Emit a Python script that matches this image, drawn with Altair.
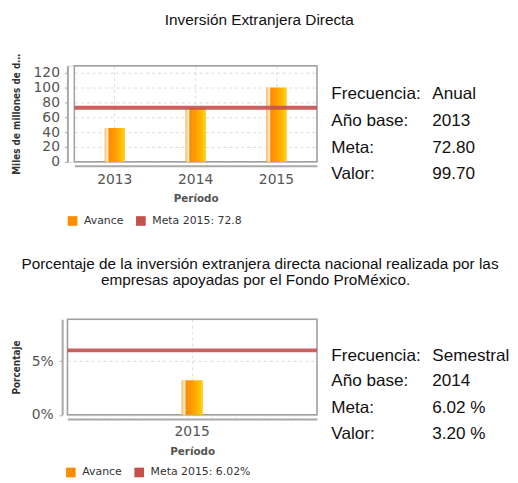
import altair as alt
import pandas as pd

# ---------------- data ----------------
x_title = "Período"
info_etiquetas = ["Frecuencia:", "Año base:", "Meta:", "Valor:"]

titulo_1 = ["Inversión Extranjera Directa"]
periodos_1 = ["2013", "2014", "2015"]
avance_1 = [45.3, 72.0, 99.7]
meta_1 = 72.8
leyenda_1 = ["Avance", "Meta 2015: 72.8"]
eje_y_1 = "Miles de millones de dólares"
ticks_y_1 = [0, 20, 40, 60, 80, 100, 120]
info_valores_1 = ["Anual", "2013", "72.80", "99.70"]

titulo_2 = ["Porcentaje de la inversión extranjera directa nacional realizada por las",
            "empresas apoyadas por el Fondo ProMéxico."]
periodos_2 = ["2015"]
avance_2 = [3.2]
meta_2 = 6.02
leyenda_2 = ["Avance", "Meta 2015: 6.02%"]
eje_y_2 = "Porcentaje"
ticks_y_2 = [0, 5]
info_valores_2 = ["Semestral", "2014", "6.02 %", "3.20 %"]

# ---------------- style ----------------
FONT_AX = "DejaVu Sans"
FONT_TXT = "Liberation Sans"
FONT_YT = "DejaVu Sans Condensed"
ORANGE = "#FF8C00"
RED = "#C4504C"
AXC = "#a8a8a8"
FRAME = "#a0a0a0"
GRID = "#dcdcdc"
GRAD = {
    "gradient": "linear", "x1": 0, "x2": 1, "y1": 0, "y2": 0,
    "stops": [
        {"offset": 0.0, "color": "#FFB254"},
        {"offset": 0.08, "color": "#FFDDA8"},
        {"offset": 0.14, "color": "#FFF4E2"},
        {"offset": 0.21, "color": "#FF8A00"},
        {"offset": 0.55, "color": "#FFA000"},
        {"offset": 0.92, "color": "#FFC800"},
        {"offset": 1.0, "color": "#FFD640"},
    ],
}
ONE = pd.DataFrame({"b": [0]})


def text_layer(s, x, y, align, size, font=FONT_TXT, color="#111"):
    return alt.Chart(pd.DataFrame({"t": [s]})).mark_text(
        align=align, baseline="alphabetic", font=font, fontSize=size, color=color
    ).encode(x=alt.value(x), y=alt.value(y), text="t:N")


def panel(periodos, avance, meta, leyenda, y_title, y_ticks, y_max, pct,
          w, h, bar_w, titles, info_vals, g):
    df = pd.DataFrame({"Periodo": periodos, "Valor": avance,
                       "Serie": [leyenda[0]] * len(periodos)})
    x0 = g["x0"]
    xenc = alt.X(
        "Periodo:N", sort=periodos,
        scale=alt.Scale(paddingInner=0, paddingOuter=0, range=[x0, w]),
        axis=alt.Axis(
            title=x_title, labelAngle=0, ticks=False, offset=g["xoff"],
            labelPadding=g["xlp"], titlePadding=g["xtp"], titleX=(x0 + w) / 2,
            domainColor=AXC, domainWidth=2, grid=True, gridDash=[3, 3],
            gridColor=GRID, bandPosition=0.5,
            labelFont=FONT_AX, labelFontSize=14, labelColor="#555",
            titleFont=FONT_AX, titleFontSize=10.5, titleFontWeight="bold",
            titleColor="#555"),
    )
    ax_kw = dict(
        title=y_title, values=y_ticks, offset=g["yoff"], tickSize=3,
        tickColor=AXC, labelPadding=g["ylp"], domainColor=AXC, domainWidth=2,
        grid=True, gridDash=[3, 3], gridColor=GRID,
        labelFont=FONT_AX, labelFontSize=14, labelColor="#555",
        titleFont=FONT_YT, titleFontSize=10, titleFontWeight="bold",
        titleColor="#333", titlePadding=g["ytp"], titleLimit=g["tlim"])
    if pct:
        ax_kw["labelExpr"] = "datum.value + '%'"
    yenc = alt.Y("Valor:Q", scale=alt.Scale(domain=[0, y_max], nice=False, zero=True),
                 axis=alt.Axis(**ax_kw))

    # white guide fixing the panel's left/top/bottom extent for the layout
    bound = alt.Chart(ONE).mark_rule(color="white", strokeWidth=1).encode(
        x=alt.value(g["bx"]), y=alt.value(g["by"]), y2=alt.value(g["by2"]))
    frame = alt.Chart(ONE).mark_rect(filled=False, stroke=FRAME, strokeWidth=1.5).encode(
        x=alt.value(x0), x2=alt.value(w), y=alt.value(0), y2=alt.value(h))

    base = alt.Chart(df).mark_bar(size=bar_w).encode(
        x=xenc, y=yenc,
        color=alt.Color("Serie:N", scale=alt.Scale(domain=leyenda, range=[ORANGE, RED]),
                        legend=alt.Legend(
                            title=None, orient="none", legendX=g["lx"], legendY=g["ly"],
                            direction="horizontal", symbolType="square", symbolSize=95,
                            symbolStrokeWidth=0, labelFont=FONT_AX, labelFontSize=11,
                            labelColor="#333", labelOffset=6, columnPadding=12,
                            padding=0)),
    )
    grad = alt.Chart(df).mark_bar(size=bar_w, color=GRAD).encode(x=xenc, y=yenc)
    rule = alt.Chart(pd.DataFrame({"Valor": [meta]})).mark_rule(
        color=RED, strokeWidth=4, opacity=0.9).encode(
        y=yenc, x=alt.value(x0), x2=alt.value(w))

    layers = [bound, frame, base, grad, rule]
    for (s, x, y) in titles:
        layers.append(text_layer(s, x, y, "center", 15.5))
    for i, (lab, val) in enumerate(zip(info_etiquetas, info_vals)):
        layers.append(text_layer(lab, g["ix1"], g["iy"][i], "left", 17.3))
        layers.append(text_layer(val, g["ix2"], g["iy"][i], "left", 17.3))
    return alt.layer(*layers).properties(width=w, height=h)


# both panels share the same origin (page x = 67); the upper frame starts 7px in
g1 = dict(x0=7, xoff=4, xlp=6.5, xtp=7.5, yoff=0, ylp=5, ytp=12, tlim=126,
          bx=-59, by=-54.3, by2=174.7, lx=-0.3, ly=151,
          ix1=266.5, ix2=368.5, iy=[33.7, 61.0, 87.7, 114.4])
p1 = panel(periodos_1, avance_1, meta_1, leyenda_1, eje_y_1, ticks_y_1, 129.3, False,
           252, 97, 20, [(titulo_1[0], 193.8, -41.3)], info_valores_1, g1)

g2 = dict(x0=0, xoff=4.3, xlp=5.5, xtp=8, yoff=5.3, ylp=6, ytp=9.5, tlim=200,
          bx=-59, by=-79, by2=0, lx=-2, ly=149,
          ix1=266.5, ix2=368.5, iy=[41.7, 67.7, 94.3, 121.0])
p2 = panel(periodos_2, avance_2, meta_2, leyenda_2, eje_y_2, ticks_y_2, 8.93, True,
           252, 96.5, 21, [(titulo_2[0], 194.5, -50.7), (titulo_2[1], 190.0, -34.7)],
           info_valores_2, g2)

chart = alt.vconcat(p1, p2, spacing=0).resolve_scale(
    color="independent"
).resolve_legend(color="independent").properties(
    padding=0
).configure_view(stroke=None).configure(background="white")

chart.save("out.html", embed_options={"renderer": "svg", "actions": False})
